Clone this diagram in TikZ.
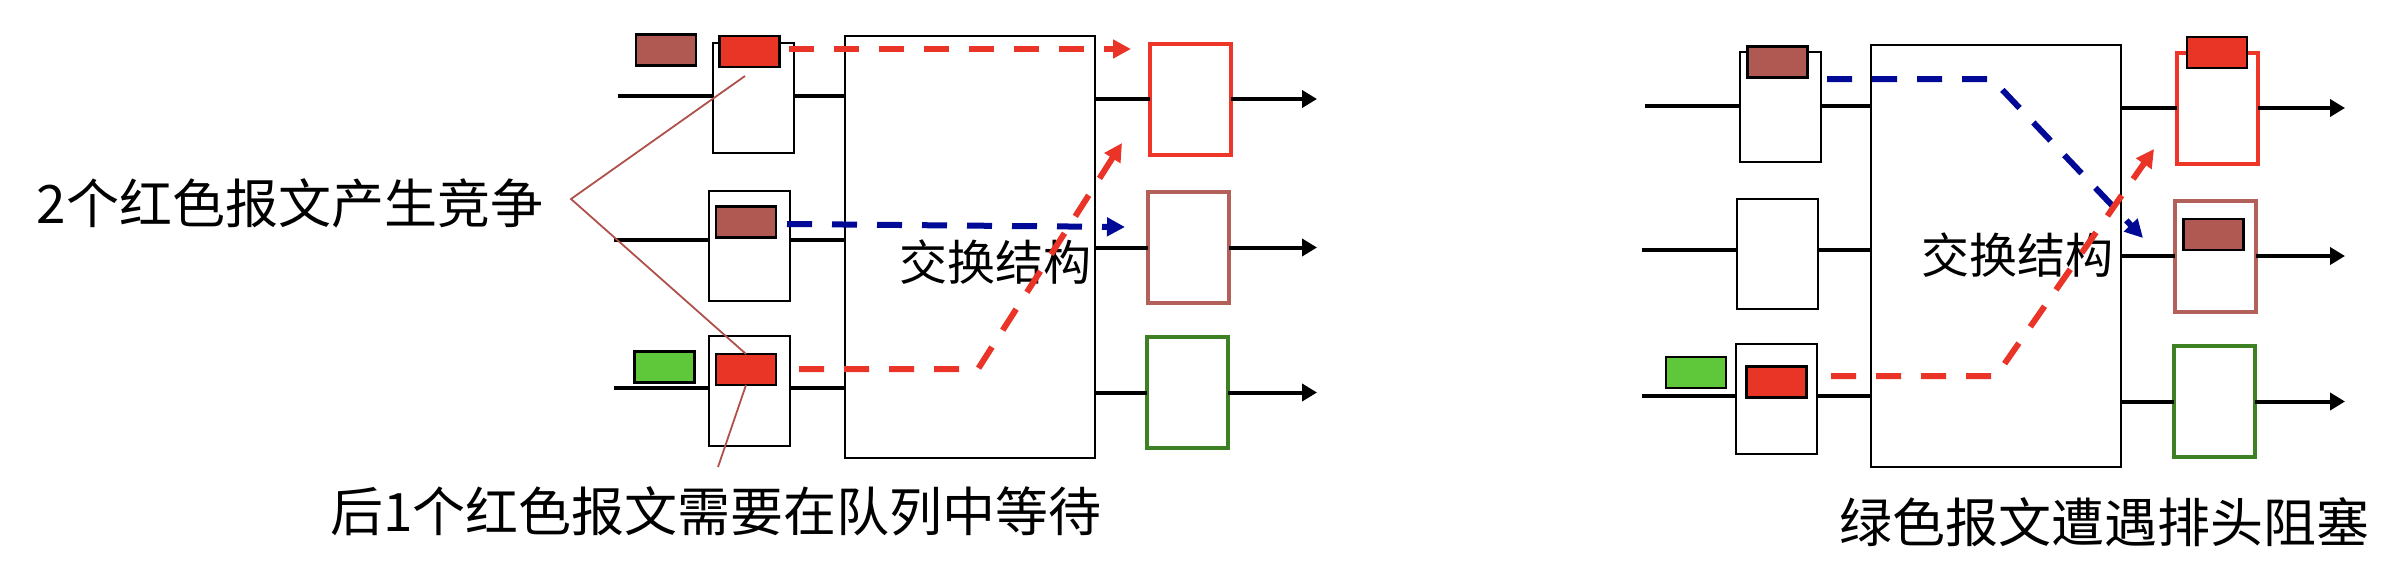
\documentclass[tikz,border=0pt]{standalone}
\usepackage{fontspec}
\setmainfont{Noto Sans CJK SC}
\usetikzlibrary{arrows.meta}
\definecolor{pktred}{RGB}{233,53,38}
\definecolor{pktbrown}{RGB}{176,88,82}
\definecolor{pktgreen}{RGB}{94,200,58}
\definecolor{boxred}{RGB}{238,54,40}
\definecolor{boxbrown}{RGB}{180,96,90}
\definecolor{boxgreen}{RGB}{62,128,36}
\definecolor{flowblue}{RGB}{0,10,150}
\definecolor{flowred}{RGB}{234,52,40}
\definecolor{annotc}{RGB}{176,80,74}
\begin{document}
\begin{tikzpicture}[x=0.5pt,y=-0.5pt,
  queue/.style={draw=black,fill=white,line width=1pt,minimum width=40.5pt,minimum height=55pt,inner sep=0pt,outer sep=0pt},
  pkt/.style={draw=black,line width=1.2pt,minimum width=30pt,minimum height=15.5pt,inner sep=0pt,outer sep=0pt},
  outbox/.style={line width=2pt,fill=white,minimum width=40.5pt,minimum height=55.5pt,inner sep=0pt,outer sep=0pt},
  fabric/.style={draw=black,fill=white,line width=1pt,minimum width=125pt,minimum height=211pt,inner sep=0pt,outer sep=0pt},
  wire/.style={line width=2pt,black},
  outarrow/.style={line width=2pt,black,-{Triangle[length=7.5pt,width=8.5pt]}},
  flow/.style={line width=3pt,dash pattern=on 12.5pt off 10pt,-{Triangle[length=9pt,width=9pt]}},
  annot/.style={draw=annotc,line width=0.9pt},
  lbl/.style={font=\fontsize{26.5}{30}\selectfont,inner sep=0pt},
  fablbl/.style={font=\fontsize{24}{28}\selectfont,inner sep=0pt}]
\useasboundingbox (0,0) rectangle (2386,578);

% ================= LEFT =================
\node[fabric] (fabL) at (969.5,247) {};
\node[queue] (qL1) at (753,98) {};
\node[queue] (qL2) at (749.5,246) {};
\node[queue] (qL3) at (749.5,390.5) {};
\node[outbox,draw=boxred] (oL1) at (1190.5,99) {};
\node[outbox,draw=boxbrown] (oL2) at (1188.5,247.5) {};
\node[outbox,draw=boxgreen] (oL3) at (1187.5,392.5) {};
\node[pkt,fill=pktbrown] (pL1b) at (666,50) {};
\node[pkt,fill=pktred] (pL1r) at (749.5,51.5) {};
\node[pkt,fill=pktbrown] (pL2b) at (746,222) {};
\node[pkt,fill=pktgreen] (pL3g) at (664.5,367) {};
\node[pkt,fill=pktred] (pL3r) at (746,369.5) {};

\coordinate (inL1) at (618,96);
\coordinate (inL2) at (614,240);
\coordinate (inL3) at (614,388);
\coordinate (endL) at (1317,0);

\foreach \i in {1,2,3}{
  \draw[wire] (inL\i) -- (inL\i -| qL\i.west);
  \draw[wire] (qL\i.east |- inL\i) -- (inL\i -| fabL.west);
  \draw[wire] (fabL.east |- oL\i.west) -- (oL\i.west);
  \draw[outarrow] (oL\i.east) -- (oL\i.east -| endL);
}

\node[fablbl] (tL) at (995,262) {交换结构};

\coordinate (fL1s) at (789,49);
\coordinate (fL1e) at (1131,49);
\coordinate (fL2s) at (787,224);
\coordinate (fL2e) at (1125,227);
\coordinate (fL3s) at (799,369);
\coordinate (fL3m) at (978,369);
\coordinate (fL3e) at (1122,143);
\draw[flow,flowred] (fL1s) -- (fL1e);
\draw[flow,flowblue] (fL2s) -- (fL2e);
\draw[flow,flowred] (fL3s) -- (fL3m) -- (fL3e);

% annotations
\node[lbl] (c1) at (290,203) {2个红色报文产生竞争};
\node[lbl,anchor=west] (c2) at (330,511) {后1个红色报文需要在队列中等待};
\coordinate (apex) at (571,199);
\coordinate (a1) at (745,76);
\coordinate (a3) at (718,467);
\draw[annot] (a1) -- (apex) -- (pL3r.north);
\draw[annot] (pL3r.south) -- (a3);

% ================= RIGHT =================
\node[fabric] (fabR) at (1996,256) {};
\node[queue] (qR1) at (1780,107) {};
\node[queue] (qR2) at (1777,254) {};
\node[queue] (qR3) at (1776,399) {};
\node[outbox,draw=boxred] (oR1) at (2217.5,108) {};
\node[outbox,draw=boxbrown] (oR2) at (2215,256) {};
\node[outbox,draw=boxgreen] (oR3) at (2214.5,401.5) {};
\node[pkt,fill=pktbrown] (pR1b) at (1777.5,62) {};
\node[pkt,fill=pktred] (pR1o) at (2217,52.5) {};
\node[pkt,fill=pktbrown] (pR2o) at (2213.5,234.5) {};
\node[pkt,fill=pktgreen] (pR3g) at (1696,372.5) {};
\node[pkt,fill=pktred] (pR3r) at (1776.5,382) {};

\coordinate (inR1) at (1645,106);
\coordinate (inR2) at (1642,250);
\coordinate (inR3) at (1642,396);
\coordinate (endR) at (2345,0);

\foreach \i in {1,2,3}{
  \draw[wire] (inR\i) -- (inR\i -| qR\i.west);
  \draw[wire] (qR\i.east |- inR\i) -- (inR\i -| fabR.west);
  \draw[wire] (fabR.east |- oR\i.west) -- (oR\i.west);
  \draw[outarrow] (oR\i.east) -- (oR\i.east -| endR);
}

\node[fablbl] (tR) at (2017,255) {交换结构};

\coordinate (fR1s) at (1827,79);
\coordinate (fR1m) at (1992,79);
\coordinate (fR1e) at (2143,238);
\coordinate (fR3s) at (1831,376);
\coordinate (fR3m) at (1996,376);
\coordinate (fR3e) at (2154,149);
\draw[flow,flowblue] (fR1s) -- (fR1m) -- (fR1e);
\draw[flow,flowred] (fR3s) -- (fR3m) -- (fR3e);

\node[lbl] (c3) at (2104.5,522) {绿色报文遭遇排头阻塞};
\end{tikzpicture}
\end{document}
